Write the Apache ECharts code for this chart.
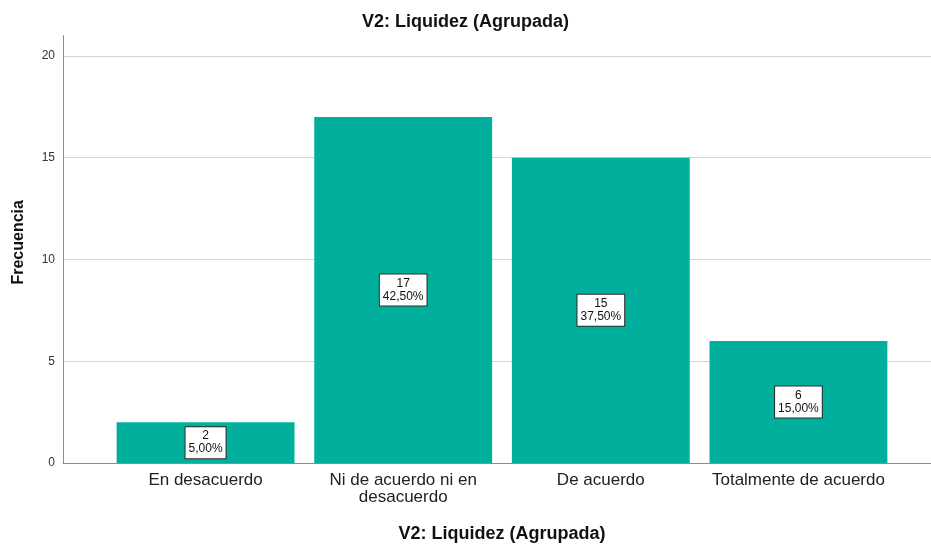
<!DOCTYPE html>
<html>
<head>
<meta charset="utf-8">
<script src="https://cdn.jsdelivr.net/npm/echarts@6/dist/echarts.min.js"></script>
<style>
  html, body { margin: 0; padding: 0; background: #fff; }
  #chart { width: 931px; height: 544px; }
</style>
</head>
<body>
<div id="chart"></div>
<script>
// datos del gráfico
const categorias = ['En desacuerdo', 'Ni de acuerdo ni en\ndesacuerdo', 'De acuerdo', 'Totalmente de acuerdo']
const frecuencias = [2, 17, 15, 6]
const porcentajes = ['5,00%', '42,50%', '37,50%', '15,00%']
const ticksY = [0, 5, 10, 15, 20]

const font = 'Arial, "Liberation Sans", sans-serif'
const chart = echarts.init(document.getElementById('chart'))

const option = {
  animation: false,
  textStyle: { fontFamily: font },
  title: {
    text: 'V2: Liquidez (Agrupada)',
    left: 'center',
    top: 8,
    textStyle: { fontSize: 18, fontWeight: 'bold', color: '#111', fontFamily: font }
  },
  grid: [
    // marco con ejes y líneas de cuadrícula
    { left: 63, right: 0, top: 35.6, bottom: 81, outerBoundsMode: 'none' },
    // zona de barras (SPSS deja margen a los lados)
    { left: 106.75, right: 33.75, top: 35.6, bottom: 81, outerBoundsMode: 'none' }
  ],
  xAxis: [
    {
      gridIndex: 0, type: 'value', min: 0, max: 1,
      axisLine: { show: true, lineStyle: { color: '#8c8c8c', width: 1 } },
      axisTick: { show: false }, axisLabel: { show: false }, splitLine: { show: false }
    },
    {
      gridIndex: 1, type: 'category', data: categorias,
      axisLine: { show: false }, axisTick: { show: false },
      axisLabel: { color: '#222', fontSize: 17, lineHeight: 17, margin: 9, interval: 0, fontFamily: font },
      name: 'V2: Liquidez (Agrupada)', nameLocation: 'middle', nameGap: 62,
      nameTextStyle: { fontSize: 18, fontWeight: 'bold', color: '#111', fontFamily: font }
    }
  ],
  yAxis: [
    {
      gridIndex: 0, type: 'value', min: 0, max: 21, interval: 5,
      axisLine: { show: true, lineStyle: { color: '#8c8c8c', width: 1 } },
      axisTick: { show: false },
      axisLabel: {
        color: '#333', fontSize: 12, margin: 8, showMaxLabel: false,
        formatter: v => (ticksY.includes(v) ? String(v) : '')
      },
      splitLine: { show: true, showMinLine: false, showMaxLine: false, lineStyle: { color: '#d4d4d4', width: 1 } },
      name: 'Frecuencia', nameLocation: 'middle', nameGap: 36, nameRotate: 90,
      nameTextStyle: { fontSize: 16, fontWeight: 'bold', color: '#111', fontFamily: font, padding: [0, 0, 0, 14] }
    },
    {
      gridIndex: 1, type: 'value', min: 0, max: 21, show: false
    }
  ],
  series: [
    {
      type: 'bar',
      xAxisIndex: 1,
      yAxisIndex: 1,
      barCategoryGap: '10%',
      data: frecuencias,
      itemStyle: { color: '#00b09d' },
      label: {
        show: true,
        position: 'inside',
        formatter: p => p.value + '\n' + porcentajes[p.dataIndex],
        color: '#111',
        fontSize: 12,
        lineHeight: 13,
        fontFamily: font,
        backgroundColor: '#fff',
        borderColor: '#2a2a2a',
        borderWidth: 1,
        padding: [3, 3, 2, 3],
        align: 'center'
      }
    }
  ]
}

chart.setOption(option)
</script>
</body>
</html>
